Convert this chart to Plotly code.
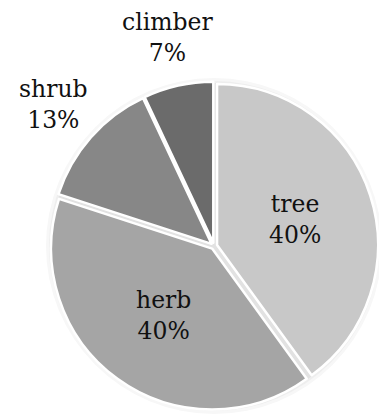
import math
import plotly.graph_objects as go

# Growth-form composition
labels = ["tree", "herb", "shrub", "climber"]
shares = [40, 40, 13, 7]
colors = ["#c8c8c8", "#a5a5a5", "#878787", "#6b6b6b"]

W, H = 379, 419
cx, cy, r = 214, 246, 161      # pie centre / radius in pixels
pull = 0.02

half = r * (1 + pull)
dom_x = [(cx - half) / W, (cx + half) / W]
dom_y = [1 - (cy + half) / H, 1 - (cy - half) / H]

fig = go.Figure(go.Pie(
    labels=labels,
    values=shares,
    sort=False,
    direction="clockwise",
    rotation=0,
    pull=[pull] * len(shares),
    marker=dict(colors=colors, line=dict(color="white", width=2.5)),
    textinfo="none",
    hoverinfo="label+percent",
    showlegend=False,
    domain=dict(x=dom_x, y=dom_y),
))

# Soft halo around the pie
for extra, col in [(7, "#f7f7f7"), (4, "#eeeeee"), (2, "#e2e2e2")]:
    rr = r + extra
    fig.add_shape(type="circle", xref="paper", yref="paper", layer="below",
                  x0=(cx - rr) / W, x1=(cx + rr) / W,
                  y0=1 - (cy + rr) / H, y1=1 - (cy - rr) / H,
                  line=dict(width=0), fillcolor=col)

# Category labels with percentages, placed along each slice's mid-angle
total = sum(shares)
start = 0.0
for name, v in zip(labels, shares):
    frac = v / total
    mid = (start + frac / 2) * 2 * math.pi
    start += frac
    k = 0.53 if frac >= 0.2 else 1.33
    px = cx + k * r * math.sin(mid)
    py = cy - k * r * math.cos(mid)
    fig.add_annotation(
        x=px / W, y=1 - py / H, xref="paper", yref="paper",
        text=f"{name}<br>{round(frac * 100)}%", showarrow=False,
        xanchor="center", yanchor="middle",
        font=dict(family="DejaVu Serif", size=23.5, color="#111111"),
    )

fig.update_layout(
    width=W, height=H,
    margin=dict(l=0, r=0, t=0, b=0),
    paper_bgcolor="white",
    plot_bgcolor="white",
    font=dict(family="DejaVu Serif"),
)

fig.write_html("out.html")
